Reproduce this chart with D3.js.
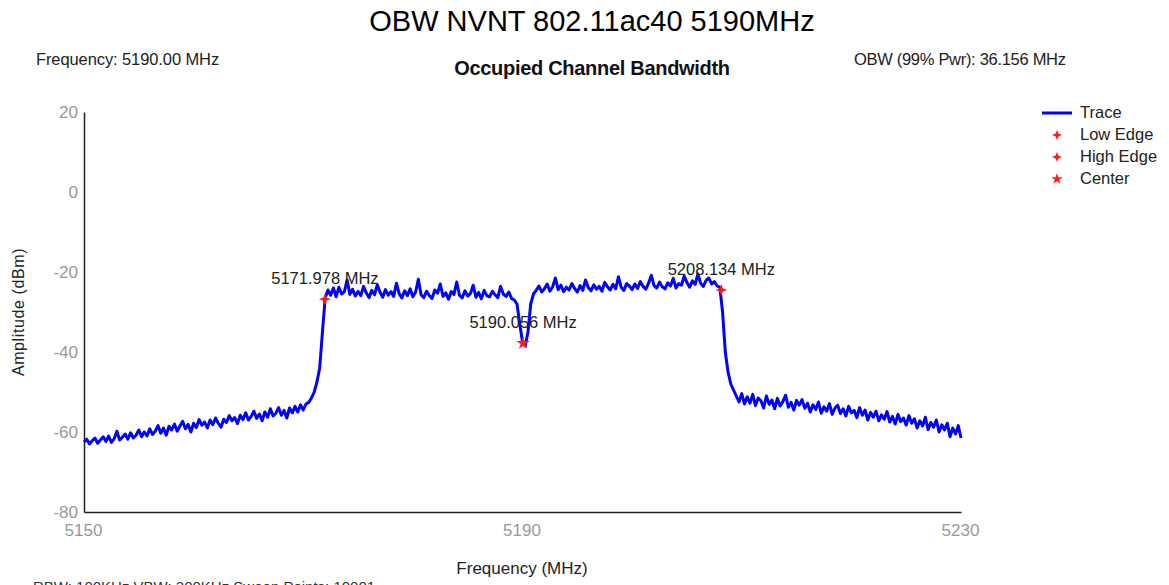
<!DOCTYPE html>
<html><head><meta charset="utf-8">
<script src="https://cdn.jsdelivr.net/npm/d3@7"></script>
<style>body{margin:0;background:#fff;} svg{display:block;font-family:"Liberation Sans",Arial,sans-serif;}</style>
</head><body>
<script>
// Sweep grid: 5150 .. 5230 MHz, 0.25 MHz spacing (321 points)
const sweepStart = 5150, sweepStep = 0.25;
const amplitude = [
-62.5,-61.8,-63.0,-62.2,-61.5,-62.8,-62.0,-61.2,
-62.4,-61.0,-62.6,-61.7,-59.8,-62.0,-61.3,-60.5,
-61.8,-60.2,-61.5,-60.8,-59.5,-61.2,-60.0,-61.0,
-59.2,-60.6,-59.8,-58.4,-60.3,-59.0,-60.8,-58.6,
-59.5,-58.0,-59.8,-58.5,-57.3,-59.2,-58.1,-60.0,
-57.8,-58.9,-56.9,-58.3,-57.5,-59.0,-57.0,-58.2,
-56.5,-57.8,-58.8,-56.8,-57.6,-55.9,-57.2,-56.4,
-57.9,-55.8,-56.9,-55.2,-57.0,-56.1,-54.8,-56.6,
-55.5,-57.2,-55.0,-56.3,-54.2,-56.0,-55.3,-53.9,
-55.8,-54.6,-56.5,-54.0,-55.2,-53.6,-55.0,-53.2,
-54.5,-53.0,-52.6,-51.5,-50.0,-47.5,-44.0,
-35.0,-26.5,
-24.5,-25.8,-24.0,-26.2,-23.8,-25.5,-24.9,-22.0,-25.6,-24.3,-26.0,-24.8,
-25.9,-23.6,-25.2,-26.4,-24.6,-25.7,-23.2,-25.0,-26.3,-24.4,-25.8,-24.9,
-26.1,-22.8,-25.4,-26.5,-24.7,-25.9,-24.2,-26.2,-25.0,-21.8,-25.7,-26.4,
-24.8,-25.9,-26.6,-24.5,-25.3,-23.0,-26.1,-25.2,-26.8,-24.9,-25.6,-22.5,
-25.8,-26.5,-24.7,-26.0,-25.4,-23.3,-26.3,-25.1,-26.7,-24.6,-25.9,-26.2,
-24.8,-25.7,-26.4,-23.6,-25.5,-26.1,-25.0,-26.6,-27.0,
-28.0,-33.0,-37.5,-38.5,-35.0,-28.0,-25.5,
-24.6,-23.5,-25.0,-24.2,-23.0,-24.8,-23.7,-21.5,-24.4,-23.3,-24.9,-23.8,
-24.5,-22.9,-24.1,-25.0,-23.4,-24.6,-22.0,-23.9,-24.7,-23.2,-24.3,-23.6,
-24.8,-22.6,-23.7,-24.5,-23.1,-24.2,-21.2,-23.8,-24.6,-22.9,-23.5,-24.4,
-23.0,-24.1,-22.4,-23.6,-24.3,-22.8,-20.8,-23.4,-24.0,-22.5,-23.7,-24.2,
-22.7,-23.5,-21.6,-24.0,-22.9,-23.3,-21.0,-22.6,-23.8,-22.2,-23.1,-20.5,
-22.8,-23.6,-22.1,-21.5,-23.0,-22.4,-23.5,
-23.8,-30.0,-40.0,-45.0,-48.0,-49.5,-51.0,
-52.5,-50.4,-53.0,-51.2,-52.8,-50.6,-53.4,-51.5,-52.2,-54.0,-51.0,-53.1,
-52.0,-54.2,-51.6,-53.5,-52.4,-50.8,-53.8,-52.6,-54.5,-52.1,-53.3,-51.9,
-54.1,-52.8,-55.0,-53.2,-54.4,-52.5,-55.3,-53.7,-54.8,-52.9,-55.6,-54.0,
-53.3,-55.4,-54.2,-56.0,-53.6,-55.2,-54.6,-56.4,-53.9,-55.8,-54.5,-57.0,
-55.1,-56.3,-54.8,-57.2,-55.7,-56.8,-54.9,-57.5,-56.1,-58.0,-55.6,-57.4,
-56.5,-58.3,-55.9,-57.8,-56.7,-59.0,-57.2,-58.5,-56.3,-59.4,-57.6,-58.8,
-57.0,-60.0,-58.2,-59.5,-57.8,-61.2,-59.0,-60.5,-58.4,-61.5
];
const markerNames = ["Low Edge","High Edge","Center"];
const markerFreq = [5171.978, 5208.134, 5190.056];
const markerAmp = [-26.8, -24.5, -37.8];
const markerLabels = ["5171.978 MHz","5208.134 MHz","5190.056 MHz"];
const xTicks = [5150, 5190, 5230];
const yTicks = [20, 0, -20, -40, -60, -80];
const legendItems = ["Trace","Low Edge","High Edge","Center"];

const W = 1169, H = 585;
const svg = d3.select("body").append("svg").attr("width", W).attr("height", H);
const x = d3.scaleLinear().domain([5150, 5230]).range([84, 961]);
const y = d3.scaleLinear().domain([-80, 20]).range([512, 112]);

const trace = amplitude.map((a, i) => [sweepStart + i * sweepStep, a]);

// titles
svg.append("text").attr("x", 592).attr("y", 31).attr("text-anchor", "middle")
  .style("font-size", "29px").attr("fill", "#000").text("OBW NVNT 802.11ac40 5190MHz");
svg.append("text").attr("x", 592).attr("y", 75).attr("text-anchor", "middle")
  .style("font-size", "20px").style("font-weight", "bold").style("letter-spacing", "-0.3px")
  .attr("fill", "#111").text("Occupied Channel Bandwidth");
svg.append("text").attr("x", 36).attr("y", 65).style("font-size", "16.5px").style("letter-spacing", "-0.1px")
  .attr("fill", "#222").text("Frequency: 5190.00 MHz");
svg.append("text").attr("x", 854).attr("y", 65).style("font-size", "16.5px").style("letter-spacing", "-0.3px")
  .attr("fill", "#222").text("OBW (99% Pwr): 36.156 MHz");

// axes
const gx = svg.append("g").attr("transform", "translate(0,512)")
  .call(d3.axisBottom(x).tickValues(xTicks).tickSize(0).tickPadding(12).tickFormat(d3.format("d")));
const gy = svg.append("g").attr("transform", "translate(84,0)")
  .call(d3.axisLeft(y).tickValues(yTicks).tickSize(0).tickPadding(6).tickFormat(d => String(d)));
[gx, gy].forEach(g => {
  g.select(".domain").attr("stroke", "#222").attr("stroke-width", 1.5);
  g.selectAll("text").style("font-size", "17px").attr("fill", "#999")
    .style("font-family", '"Liberation Sans",Arial,sans-serif');
});
gx.selectAll("text").attr("dx", "-1");

svg.append("text").attr("x", 522).attr("y", 574).attr("text-anchor", "middle")
  .style("font-size", "17px").attr("fill", "#222").text("Frequency (MHz)");
svg.append("text").attr("transform", "translate(24,312) rotate(-90)").attr("text-anchor", "middle")
  .style("font-size", "16px").style("letter-spacing", "0.6px").attr("fill", "#222").text("Amplitude (dBm)");
svg.append("text").attr("x", 33).attr("y", 592).style("font-size", "15px").attr("fill", "#333")
  .text("RBW: 100KHz   VBW: 300KHz   Sweep Points: 10001");

// trace
const line = d3.line().x(d => x(d[0])).y(d => y(d[1]));
svg.append("path").datum(trace).attr("d", line).attr("fill", "none")
  .attr("stroke", "#0000ff").attr("stroke-width", 3).attr("stroke-linejoin", "round");

// markers
const star5 = d3.symbol().type(d3.symbolStar).size(55);
const star4path = "M0,-6 L1.6,-1.6 L6,0 L1.6,1.6 L0,6 L-1.6,1.6 L-6,0 L-1.6,-1.6 Z";
markerFreq.forEach((f, i) => {
  svg.append("path").attr("transform", `translate(${x(f)},${y(markerAmp[i])})`)
    .attr("d", i === 2 ? star5() : star4path).attr("fill", "#ff1a1a");
  svg.append("text").attr("x", x(f)).attr("y", y(markerAmp[i]) - 15).attr("text-anchor", "middle")
    .style("font-size", "16.5px").attr("fill", "#222").text(markerLabels[i]);
});

// legend
const lg = svg.append("g");
legendItems.forEach((name, i) => {
  const yy = 113 + i * 22;
  if (i === 0) {
    lg.append("line").attr("x1", 1042).attr("x2", 1072).attr("y1", yy).attr("y2", yy)
      .attr("stroke", "#0000ff").attr("stroke-width", 3);
  } else {
    lg.append("path").attr("transform", `translate(1057,${yy})`)
      .attr("d", i === 3 ? d3.symbol().type(d3.symbolStar).size(40)() : "M0,-5 L1.4,-1.4 L5,0 L1.4,1.4 L0,5 L-1.4,1.4 L-5,0 L-1.4,-1.4 Z")
      .attr("fill", "#ff1a1a");
  }
  lg.append("text").attr("x", 1080).attr("y", yy + 5).style("font-size", "16.5px").attr("fill", "#222").text(name);
});
</script>
</body></html>
